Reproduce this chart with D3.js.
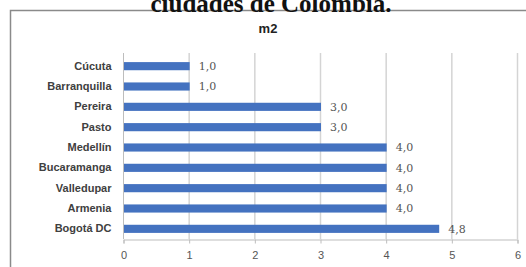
<!DOCTYPE html>
<html>
<head>
<meta charset="utf-8">
<script src="https://cdn.jsdelivr.net/npm/d3@7"></script>
<style>
  body { margin: 0; background: #fff; }
  svg { display: block; }
</style>
</head>
<body>
<svg id="chart" width="526" height="267"></svg>
<script>
const cities = ["Cúcuta", "Barranquilla", "Pereira", "Pasto", "Medellín", "Bucaramanga", "Valledupar", "Armenia", "Bogotá DC"];
const values = [1.0, 1.0, 3.0, 3.0, 4.0, 4.0, 4.0, 4.0, 4.8];
const xTicks = [0, 1, 2, 3, 4, 5, 6];
const chartTitle = "m2";
const pageCaption = "ciudades de Colombia.";

const svg = d3.select('#chart');
const BLUE = "#4472c0", GRID = "#d4d4d4", TEXT = "#404040";

// frame of the embedded chart
svg.append('rect')
  .attr('x', 10.5).attr('y', 10.5)
  .attr('width', 530).attr('height', 270)
  .attr('fill', '#fff')
  .attr('stroke', '#8a8a8a')
  .attr('stroke-width', 1.5);

// caption from the document, cut at the top
svg.append('text')
  .attr('x', 271).attr('y', 12)
  .attr('text-anchor', 'middle')
  .style('font-family', '"Liberation Serif", "Times New Roman", serif')
  .style('font-weight', 'bold')
  .style('font-size', '25px')
  .attr('fill', '#111')
  .text(pageCaption);

svg.append('text')
  .attr('x', 268).attr('y', 33)
  .attr('text-anchor', 'middle')
  .style('font-family', '"Liberation Sans", Arial, sans-serif')
  .style('font-weight', 'bold')
  .style('font-size', '13px')
  .attr('fill', '#222')
  .text(chartTitle);

const xScale = d3.scaleLinear().domain([0, 6]).range([123, 517]);
const yScale = d3.scaleBand().domain(cities).range([56, 239]).paddingInner(0.6).paddingOuter(0.3);

// grid lines
svg.append('g').selectAll('line.grid').data(xTicks.slice(1))
  .enter().append('line')
  .attr('class', 'grid')
  .attr('x1', d => xScale(d) + 0.5).attr('x2', d => xScale(d) + 0.5)
  .attr('y1', 53).attr('y2', 239)
  .attr('stroke', GRID).attr('stroke-width', 1.5);

const xAxis = d3.axisBottom(xScale).tickValues(xTicks).tickSize(4).tickFormat(d3.format('d'));
const xAxisG = svg.append('g').attr('transform', 'translate(0.5,239.5)').call(xAxis);
xAxisG.select('.domain').attr('stroke', '#bdbdbd');
xAxisG.selectAll('.tick line').attr('stroke', '#bdbdbd');
xAxisG.selectAll('.tick text')
  .attr('dy', '1.1em')
  .style('font-family', '"Liberation Sans", Arial, sans-serif')
  .style('font-size', '11px')
  .attr('fill', '#555');

const yAxis = d3.axisLeft(yScale).tickSize(0).tickPadding(12);
const yAxisG = svg.append('g').attr('transform', 'translate(123.5,0)').call(yAxis);
yAxisG.select('.domain').attr('stroke', '#bdbdbd').attr('d', 'M0,53V239');
yAxisG.selectAll('.tick text')
  .style('font-family', '"Liberation Sans", Arial, sans-serif')
  .style('font-weight', 'bold')
  .style('font-size', '11px')
  .attr('fill', TEXT);

svg.selectAll('rect.bar').data(values)
  .enter().append('rect')
  .attr('class', 'bar')
  .attr('x', xScale(0) + 1)
  .attr('y', (d, i) => yScale(cities[i]))
  .attr('width', d => xScale(d) - xScale(0))
  .attr('height', yScale.bandwidth())
  .attr('fill', BLUE);

svg.selectAll('text.val').data(values)
  .enter().append('text')
  .attr('class', 'val')
  .attr('x', d => xScale(d) + 10)
  .attr('y', (d, i) => yScale(cities[i]) + yScale.bandwidth() / 2)
  .attr('dy', '0.35em')
  .style('font-family', '"DejaVu Serif", serif')
  .style('font-size', '11px')
  .attr('fill', '#555')
  .text(d => d.toFixed(1).replace('.', ','));
</script>
</body>
</html>
